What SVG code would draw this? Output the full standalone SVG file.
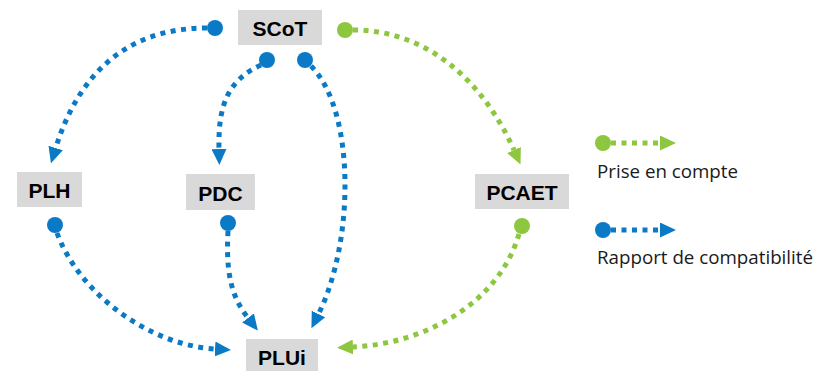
<svg xmlns="http://www.w3.org/2000/svg" width="820" height="371" viewBox="0 0 820 371">
<style>
.box{fill:#D9D9D9}
.lbl{font-family:"Liberation Sans",Arial,sans-serif;font-weight:bold;font-size:21px;fill:#000;text-anchor:middle}
.leg{font-family:"Open Sans","Liberation Sans",sans-serif;font-size:18px;fill:#1a1a1a}
.b{fill:none;stroke:#0B7AC6;stroke-width:5;stroke-dasharray:5 5.5}
.g{fill:none;stroke:#8DC63F;stroke-width:5;stroke-dasharray:5 5.5}
.bd{fill:#0B7AC6}
.gd{fill:#8DC63F}
</style>
<defs>
<marker id="ab" viewBox="0 0 16 15" refX="0" refY="7.5" markerWidth="16" markerHeight="15" markerUnits="userSpaceOnUse" orient="auto"><path d="M0,0 L16,7.5 L0,15 z" fill="#0B7AC6"/></marker>
<marker id="ag" viewBox="0 0 16 15" refX="0" refY="7.5" markerWidth="16" markerHeight="15" markerUnits="userSpaceOnUse" orient="auto"><path d="M0,0 L16,7.5 L0,15 z" fill="#8DC63F"/></marker>
</defs>
<g id="connectors">
<path class="b" d="M207,28 C130,28 80,70 55.7,148" marker-end="url(#ab)"/>
<circle class="bd" cx="215" cy="28" r="8"/>
<path class="b" d="M261,65 C228,80 218,105 219,149" marker-end="url(#ab)"/>
<circle class="bd" cx="267" cy="60" r="8"/>
<path class="b" d="M311,66 C355,110 355,240 318.5,314" marker-end="url(#ab)"/>
<circle class="bd" cx="305" cy="60" r="8"/>
<path class="g" d="M353,30 C430,30 485,85 514,150" marker-end="url(#ag)"/>
<circle class="gd" cx="345" cy="30" r="8"/>
<path class="b" d="M57,233 C80,295 150,345 215,349" marker-end="url(#ab)"/>
<circle class="bd" cx="55" cy="225" r="8"/>
<path class="b" d="M228,231 C226,270 230,295 248,318" marker-end="url(#ab)"/>
<circle class="bd" cx="228" cy="223" r="8"/>
<path class="g" d="M519,234 C500,300 430,343 353,347" marker-end="url(#ag)"/>
<circle class="gd" cx="522" cy="226" r="8"/>
</g>
<g id="SCoT"><rect class="box" x="238" y="10" width="84" height="35"/><text class="lbl" x="280" y="36">SCoT</text></g>
<g id="PLH"><rect class="box" x="17" y="172" width="65" height="35"/><text class="lbl" x="49.5" y="198">PLH</text></g>
<g id="PDC"><rect class="box" x="186" y="174" width="69" height="36"/><text class="lbl" x="220.5" y="201">PDC</text></g>
<g id="PCAET"><rect class="box" x="475" y="174" width="94" height="35"/><text class="lbl" x="522" y="200">PCAET</text></g>
<g id="PLUi"><rect class="box" x="246" y="339" width="72" height="36"/><text class="lbl" x="282" y="365">PLUi</text></g>
<g id="legend">
<path class="g" d="M611,143 L660,143" marker-end="url(#ag)"/>
<circle class="gd" cx="603" cy="143" r="8"/>
<text class="leg" x="597" y="178" textLength="141" lengthAdjust="spacingAndGlyphs">Prise en compte</text>
<path class="b" d="M611,230 L660,230" marker-end="url(#ab)"/>
<circle class="bd" cx="603" cy="230" r="8"/>
<text class="leg" x="597" y="264" textLength="216" lengthAdjust="spacingAndGlyphs">Rapport de compatibilité</text>
</g>
</svg>
